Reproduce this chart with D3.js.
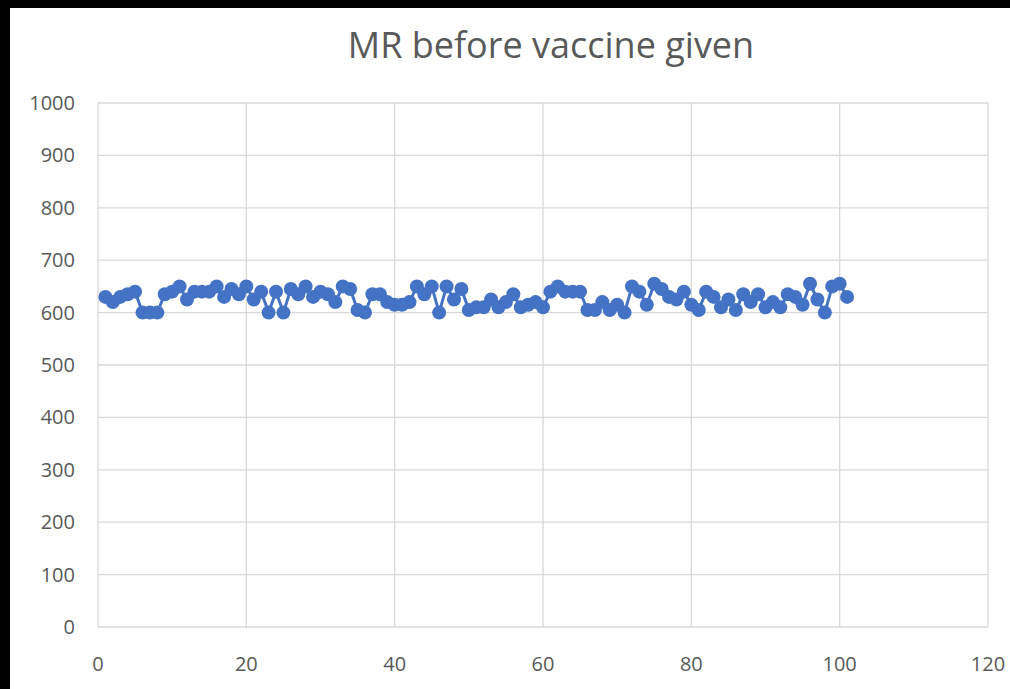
<!DOCTYPE html>
<html><head><meta charset="utf-8">
<script src="https://cdn.jsdelivr.net/npm/d3@7"></script>
<style>body{margin:0;background:#000;}svg{display:block;}</style>
</head><body>
<script>
const title = "MR before vaccine given";
const xValues = d3.range(1, 102);
const mrValues = [630,620,630,635,640,600,600,600,635,640,
  650,625,640,640,640,650,630,645,635,650,
  625,640,600,640,600,645,635,650,630,640,
  635,620,650,645,605,600,635,635,620,615,
  615,620,650,635,650,600,650,625,645,605,
  610,610,625,610,620,635,610,615,620,610,
  640,650,640,640,640,605,605,620,605,615,
  600,650,640,615,655,645,630,625,640,615,
  605,640,630,610,625,605,635,620,635,610,
  620,610,635,630,615,655,625,600,650,655,630];
const xTicks = [0,20,40,60,80,100,120];
const yTicks = [0,100,200,300,400,500,600,700,800,900,1000];

const W = 1010, H = 689;
const svg = d3.select("body").append("svg").attr("width", W).attr("height", H);
svg.append("rect").attr("x",10).attr("y",8).attr("width",W-10).attr("height",H-8).attr("fill","#fff");

const x = d3.scaleLinear().domain([0,120]).range([98,988]);
const y = d3.scaleLinear().domain([0,1000]).range([627,103]);
const font = "'Open Sans', 'Liberation Sans', sans-serif";

svg.append("g").selectAll("line").data(yTicks).join("line")
  .attr("x1",x(0)).attr("x2",x(120)).attr("y1",d=>y(d)).attr("y2",d=>y(d))
  .attr("stroke","#d9d9d9").attr("stroke-width",1.3);
svg.append("g").selectAll("line").data(xTicks).join("line")
  .attr("y1",y(0)).attr("y2",y(1000)).attr("x1",d=>x(d)).attr("x2",d=>x(d))
  .attr("stroke","#d9d9d9").attr("stroke-width",1.3);

svg.append("g").selectAll("text").data(yTicks).join("text")
  .attr("x",75).attr("y",d=>y(d)).attr("dy","0.35em").attr("text-anchor","end")
  .attr("font-family",font).attr("font-size",20).attr("fill","#595959").text(d=>d);
svg.append("g").selectAll("text").data(xTicks).join("text")
  .attr("x",d=>x(d)).attr("y",664).attr("dy","0.35em").attr("text-anchor","middle")
  .attr("font-family",font).attr("font-size",20).attr("fill","#595959").text(d=>d);

svg.append("text").attr("x",551).attr("y",45).attr("dy","0.35em").attr("text-anchor","middle")
  .attr("font-family",font).attr("font-size",36).attr("fill","#595959").text(title);

const data = xValues.map((d,i)=>({x:d,v:mrValues[i]}));
svg.append("path").datum(data)
  .attr("d", d3.line().x(d=>x(d.x)).y(d=>y(d.v)))
  .attr("fill","none").attr("stroke","#4472c4").attr("stroke-width",3);
svg.append("g").selectAll("circle").data(data).join("circle")
  .attr("cx",d=>x(d.x)).attr("cy",d=>y(d.v)).attr("r",7)
  .attr("fill","#4472c4");
</script>
</body></html>
